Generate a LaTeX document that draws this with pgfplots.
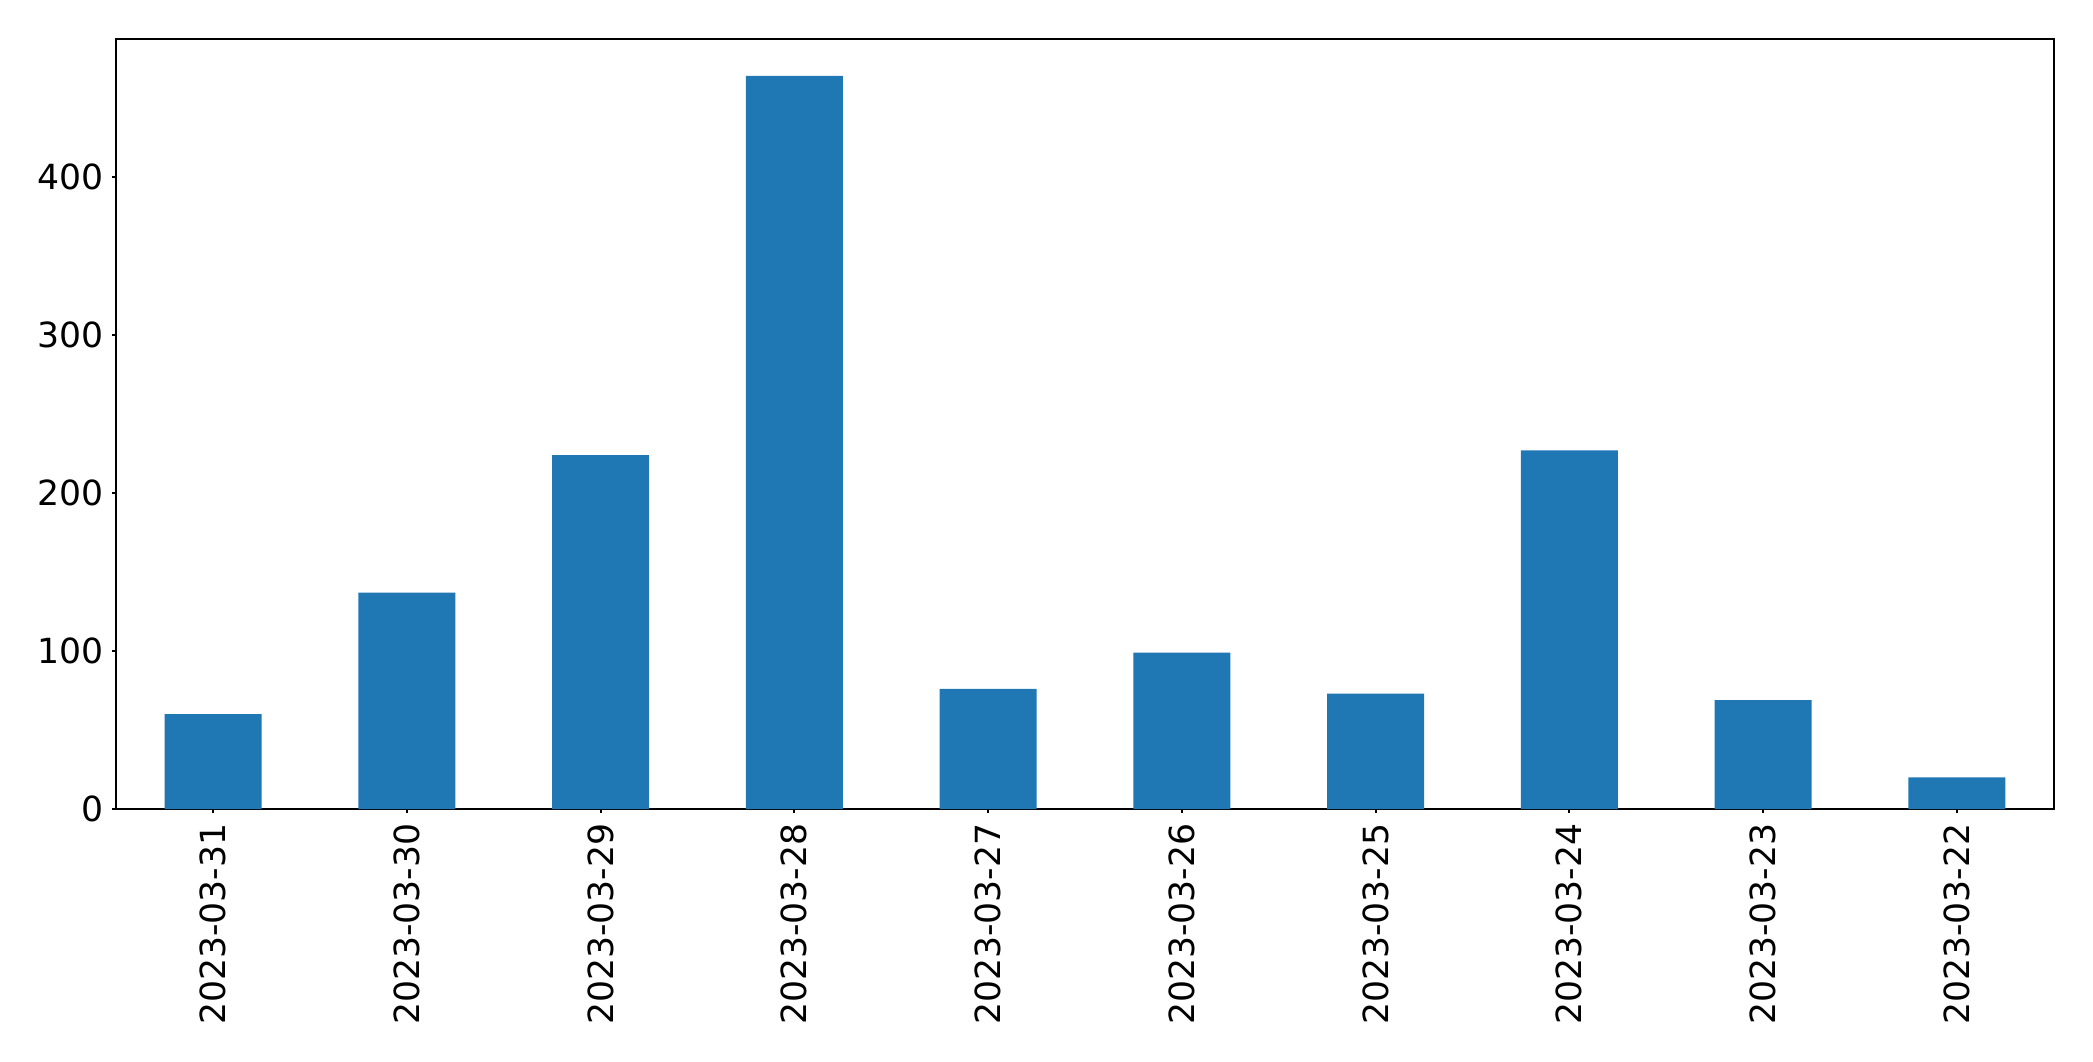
\documentclass[border=0pt]{standalone}
\usepackage{pgfplots}
\pgfplotsset{compat=1.18}
\usepackage{fontspec}
\setmainfont{DejaVu Sans}
\definecolor{barblue}{HTML}{1F77B4}
\begin{document}
\begin{tikzpicture}
\begin{axis}[
    width=193.74mm, height=76.97mm, scale only axis,
    xmin=-0.5, xmax=9.5, ymin=0, ymax=487.2,
    ybar, bar width=0.5,
    xtick={0,...,9},
    xticklabels={2023-03-31,2023-03-30,2023-03-29,2023-03-28,2023-03-27,2023-03-26,2023-03-25,2023-03-24,2023-03-23,2023-03-22},
    ytick={0,100,200,300,400},
    tick align=outside, tick pos=left,
    major tick length=0.4mm,
    axis line style={line width=0.6pt},
    every tick/.style={black, line width=0.6pt},
    tick label style={font=\fontsize{9.85}{11.5}\selectfont},
    xticklabel style={rotate=90, anchor=east, inner sep=0pt, xshift=-1.0mm},
    yticklabel style={inner sep=0pt, xshift=-0.8mm},
    /pgf/number format/assume math mode=true,
  ]
\addplot[fill=barblue, draw=none] coordinates {(0,60) (1,137) (2,224) (3,464) (4,76) (5,99) (6,73) (7,227) (8,69) (9,20)};
\end{axis}
\path[use as bounding box] ([shift={(-11.63mm,-25.2mm)}]current axis.south west) rectangle ([shift={(3.93mm,3.93mm)}]current axis.north east);
\end{tikzpicture}
\end{document}
